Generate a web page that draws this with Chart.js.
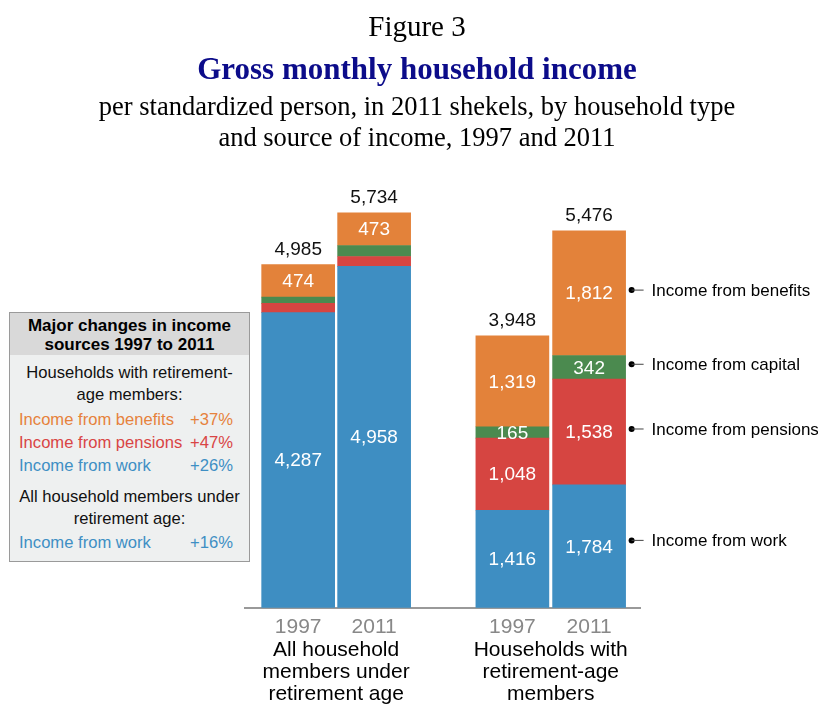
<!DOCTYPE html>
<html>
<head>
<meta charset="utf-8">
<script src="https://cdn.jsdelivr.net/npm/chart.js@4.4.1/dist/chart.umd.min.js"></script>
<style>
  body { margin: 0; background: #fff; }
  #wrap { position: relative; width: 818px; height: 704px; overflow: hidden; }
  #chart { position: absolute; left: 0; top: 0; }
  .serif { position: absolute; left: 0; width: 834px; text-align: center; font-family: "Liberation Serif", "Times New Roman", serif; color: #000; }
  #fig { top: 10px; font-size: 29px; }
  #title { top: 51px; font-size: 31px; font-weight: bold; color: #0c0c8a; }
  #sub { top: 91px; font-size: 26.5px; line-height: 31px; }
  #box { position: absolute; left: 9px; top: 312px; width: 239px; height: 248px; background: #eef0f0; border: 1px solid #9a9a9a; font-family: "Liberation Sans", Arial, sans-serif; font-size: 16.6px; }
  #box .hd { background: #d9d9d9; height: 42px; text-align: center; font-weight: bold; line-height: 19px; padding-top: 3px; box-sizing: border-box; font-size: 17px; }
  #box .tx { text-align: center; line-height: 22px; color: #111; }
  #box .row { display: flex; justify-content: space-between; padding: 0 16px 0 9px; line-height: 23px; }
</style>
</head>
<body>
<div id="wrap">
  <canvas id="chart" width="818" height="704"></canvas>
  <div class="serif" id="fig">Figure 3</div>
  <div class="serif" id="title">Gross monthly household income</div>
  <div class="serif" id="sub">per standardized person, in 2011 shekels, by household type<br>and source of income, 1997 and 2011</div>
  <div id="box">
    <div class="hd">Major changes in income<br>sources 1997 to 2011</div>
    <div class="tx" style="margin-top:7px">Households with retirement-<br>age members:</div>
    <div class="row" style="margin-top:2px;color:#e6823c"><span>Income from benefits</span><span>+37%</span></div>
    <div class="row" style="color:#d94545"><span>Income from pensions</span><span>+47%</span></div>
    <div class="row" style="color:#3e8fc4"><span>Income from work</span><span>+26%</span></div>
    <div class="tx" style="margin-top:9px">All household members under<br>retirement age:</div>
    <div class="row" style="margin-top:1px;color:#3e8fc4"><span>Income from work</span><span>+16%</span></div>
  </div>
</div>
<script>
// bar order: all under retirement age 1997, 2011; with retirement-age members 1997, 2011
const years = ['1997', '2011', '1997', '2011'];
const groups = [
    ['All household', 'members under', 'retirement age'],
    ['Households with', 'retirement-age', 'members']
];
const fromWork     = [4287, 4958, 1416, 1784];
const fromPensions = [135, 143, 1048, 1538];
const fromCapital  = [89, 160, 165, 342];
const fromBenefits = [474, 473, 1319, 1812];
const totals       = [4985, 5734, 3948, 5476];

// which segment values get a label inside the bar
const showInside = {
    work:     [true, true, true, true],
    pensions: [false, false, true, true],
    capital:  [false, false, true, true],
    benefits: [true, true, true, true]
};

// horizontal slot of each bar on the x scale
const slots = [0, 1, 2.82, 3.83];

const COLORS = {
    work: '#3e8ec2',
    pensions: '#d64541',
    capital: '#4b8a4f',
    benefits: '#e3823a'
};

const fmt = v => v.toLocaleString('en-US');
const pts = arr => arr.map((v, i) => ({ x: slots[i], y: v }));

const series = [
    { key: 'work', label: 'Income from work', values: fromWork },
    { key: 'pensions', label: 'Income from pensions', values: fromPensions },
    { key: 'capital', label: 'Income from capital', values: fromCapital },
    { key: 'benefits', label: 'Income from benefits', values: fromBenefits }
];

// Labels inside segments, totals on top, side annotations, group names
const labelPlugin = {
    id: 'labels',
    afterDatasetsDraw(chart) {
        const ctx = chart.ctx;
        const xs = chart.scales.x;
        const ys = chart.scales.y;
        ctx.save();
        ctx.textAlign = 'center';
        ctx.textBaseline = 'middle';
        ctx.font = '19px "Liberation Sans", Arial, sans-serif';

        series.forEach((s, di) => {
            const meta = chart.getDatasetMeta(di);
            meta.data.forEach((bar, i) => {
                if (!showInside[s.key][i]) return;
                ctx.fillStyle = '#ffffff';
                ctx.fillText(fmt(s.values[i]), bar.x, (bar.y + bar.base) / 2 + 1);
            });
        });

        ctx.fillStyle = '#111';
        totals.forEach((t, i) => {
            ctx.fillText(fmt(t), xs.getPixelForValue(slots[i]), ys.getPixelForValue(t) - 15);
        });

        // annotations next to the last bar
        ctx.textAlign = 'left';
        ctx.font = '17px "Liberation Sans", Arial, sans-serif';
        series.forEach((s, di) => {
            const bar = chart.getDatasetMeta(di).data[3];
            const y = (bar.y + bar.base) / 2 - (di === 0 ? 6 : 3);
            const x0 = bar.x + bar.width / 2 + 6;
            ctx.fillStyle = '#000';
            ctx.beginPath();
            ctx.arc(x0, y, 3, 0, Math.PI * 2);
            ctx.fill();
            ctx.strokeStyle = '#444';
            ctx.lineWidth = 1;
            ctx.beginPath();
            ctx.moveTo(x0, y);
            ctx.lineTo(x0 + 12, y);
            ctx.stroke();
            ctx.fillText(s.label, x0 + 20, y + 1);
        });

        // group names under the year ticks
        ctx.textAlign = 'center';
        ctx.fillStyle = '#000';
        ctx.font = '21px "Liberation Sans", Arial, sans-serif';
        groups.forEach((lines, g) => {
            const cx = (xs.getPixelForValue(slots[g * 2]) + xs.getPixelForValue(slots[g * 2 + 1])) / 2;
            lines.forEach((ln, k) => ctx.fillText(ln, cx, 650 + k * 22));
        });
        ctx.restore();
    }
};

new Chart(document.getElementById('chart'), {
    type: 'bar',
    data: {
        datasets: series.map(s => ({
            label: s.label,
            data: pts(s.values),
            backgroundColor: COLORS[s.key],
            borderWidth: 0,
            barThickness: 73
        }))
    },
    options: {
        responsive: false,
        animation: false,
        layout: { padding: { left: 245, right: 178, top: 160, bottom: 57 } },
        plugins: { legend: { display: false }, tooltip: { enabled: false } },
        scales: {
            x: {
                type: 'linear',
                stacked: true,
                offset: false,
                min: -0.7,
                max: 4.5,
                afterBuildTicks: scale => { scale.ticks = slots.map(v => ({ value: v })); },
                ticks: {
                    callback: (v, i) => years[i],
                    color: '#888',
                    font: { size: 21, family: '"Liberation Sans", Arial, sans-serif' },
                    padding: 7,
                    maxRotation: 0,
                    autoSkip: false
                },
                grid: { display: false, drawTicks: false },
                border: { color: '#999', width: 2 }
            },
            y: {
                stacked: true,
                display: false,
                min: 0,
                max: 6503
            }
        }
    },
    plugins: [labelPlugin]
});
</script>
</body>
</html>
